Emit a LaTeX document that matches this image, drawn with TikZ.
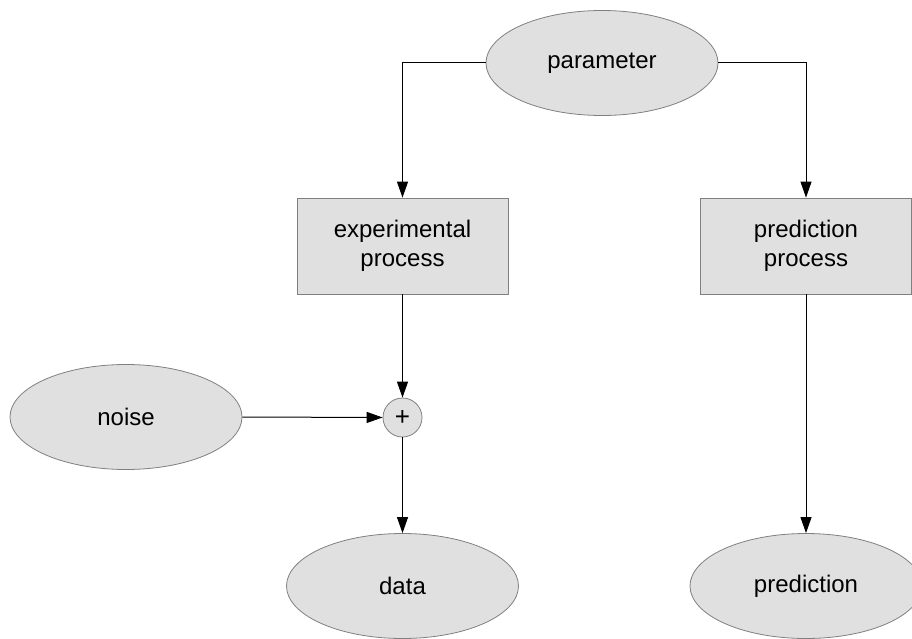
\documentclass[tikz,border=0pt]{standalone}
\usepackage{fontspec}
\setmainfont{Liberation Sans}
\usetikzlibrary{arrows.meta,shapes.geometric}
\definecolor{shapefill}{HTML}{E0E0E0}
\definecolor{shapeline}{HTML}{808080}
\begin{document}
\begin{tikzpicture}[
  x=1pt,y=-1pt,
  >={Triangle[length=16pt,width=11pt]},
  conn/.style={draw=black,line width=1pt,->},
  varnode/.style={ellipse,draw=shapeline,fill=shapefill,line width=0.8pt,inner sep=0pt,
    minimum width=232pt,minimum height=105pt,font=\fontsize{24}{27}\selectfont},
  procbox/.style={rectangle,draw=shapeline,fill=shapefill,line width=0.8pt,align=center,
    minimum width=211pt,minimum height=96pt,font=\fontsize{24}{29}\selectfont},
  sumnode/.style={circle,draw=shapeline,fill=shapefill,line width=0.8pt,inner sep=0pt,
    minimum size=39pt,font=\fontsize{26}{28}\selectfont}
]
  \useasboundingbox (0,0) rectangle (912,639);

  \node[varnode] (param) at (602,63) {parameter};
  \node[procbox] (exp)   at (402.5,246) {experimental\\process};
  \node[procbox] (pred)  at (806,246) {prediction\\process};
  \node[varnode] (noise) at (126,417) {noise};
  \node[sumnode] (plus)  at (402.5,417.5) {+};
  \node[varnode] (data)  at (402.5,586) {data};
  \node[varnode] (predn) at (806,586) {prediction};

  \draw[conn] (param.west) -| (exp.north);
  \draw[conn] (param.east) -| (pred.north);
  \draw[conn] (exp.south) -- (plus.north);
  \draw[conn] (noise.east) -- (plus.west);
  \draw[conn] (plus.south) -- (data.north);
  \draw[conn] (pred.south) -- (predn.north);
\end{tikzpicture}
\end{document}
